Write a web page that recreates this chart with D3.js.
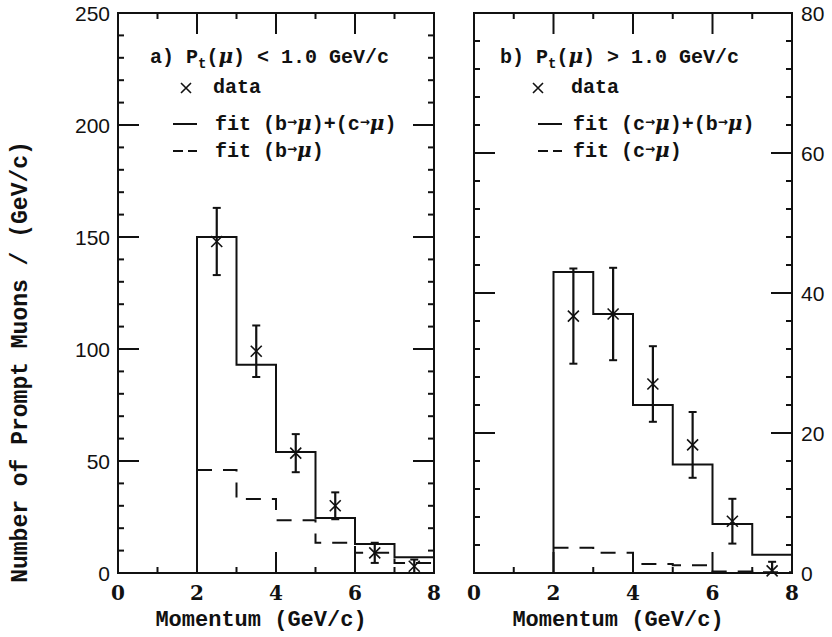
<!DOCTYPE html>
<html>
<head>
  <meta charset="utf-8">
  <title>Prompt muon momentum spectra</title>
  <script src="https://d3js.org/d3.v7.min.js"></script>
  <style>
    body { margin: 0; background: #fff; }
    text { fill: #111; }
  </style>
</head>
<body>

<div id="chart"></div>

<script>
// Histogram bins (GeV/c)
const binEdges = [2, 3, 4, 5, 6, 7, 8];
const binCenters = [2.5, 3.5, 4.5, 5.5, 6.5, 7.5];

// a) Pt(mu) < 1.0 GeV/c
const fitA = [150, 93, 54, 24.5, 13, 7];        // (b->mu)+(c->mu)
const partA = [46, 33, 23.5, 13.5, 9, 4.5];     // (b->mu)
const dataA = [148, 99, 53.5, 30, 9, 3];
const errA = [15, 11.5, 8.5, 6, 4.5, 3];

// b) Pt(mu) > 1.0 GeV/c
const fitB = [43, 37, 24, 15.5, 7, 2.6];        // (c->mu)+(b->mu)
const partB = [3.6, 2.9, 1.3, 1.1, 0.2, 0.1];   // (c->mu)
const dataB = [36.7, 37, 27, 18.3, 7.4, 0.3];
const errB = [6.8, 6.6, 5.4, 4.7, 3.2, 1.3];

const xTicks = [0, 2, 4, 6, 8];
const yTicksA = [0, 50, 100, 150, 200, 250];
const yTicksB = [0, 20, 40, 60, 80];

const width = 832;
const height = 637;
const monoFont = "'Liberation Mono', 'DejaVu Sans Mono', monospace";
const sansFont = "'Liberation Sans', Arial, sans-serif";

const svg = d3.select("#chart")
  .append("svg")
  .attr("width", width)
  .attr("height", height);

// draw one panel
function drawPanel(opt) {
  const x = d3.scaleLinear().domain([0, 8]).range([opt.left, opt.right]);
  const y = d3.scaleLinear().domain([0, opt.ymax]).range([573, 13]);
  const g = svg.append("g");

  // frame
  g.append("rect")
    .attr("x", x(0)).attr("y", y(opt.ymax))
    .attr("width", x(8) - x(0)).attr("height", y(0) - y(opt.ymax))
    .attr("fill", "none").attr("stroke", "#111").attr("stroke-width", 2);

  // inward ticks, all four sides
  const major = 21, minor = 6;
  d3.range(1, 8, 1).forEach(v => {
    const len = (v % 2 === 0) ? major : minor;
    g.append("line").attr("x1", x(v)).attr("x2", x(v))
      .attr("y1", y(0)).attr("y2", y(0) - len)
      .attr("stroke", "#111").attr("stroke-width", 2);
    g.append("line").attr("x1", x(v)).attr("x2", x(v))
      .attr("y1", y(opt.ymax)).attr("y2", y(opt.ymax) + len)
      .attr("stroke", "#111").attr("stroke-width", 2);
  });
  const yStep = opt.ymajor / 5;
  d3.range(yStep, opt.ymax - 0.01, yStep).forEach(v => {
    const isMajor = Math.abs(v / opt.ymajor - Math.round(v / opt.ymajor)) < 1e-6;
    const len = isMajor ? major : minor;
    g.append("line").attr("x1", x(0)).attr("x2", x(0) + len)
      .attr("y1", y(v)).attr("y2", y(v))
      .attr("stroke", "#111").attr("stroke-width", 2);
    g.append("line").attr("x1", x(8)).attr("x2", x(8) - len)
      .attr("y1", y(v)).attr("y2", y(v))
      .attr("stroke", "#111").attr("stroke-width", 2);
  });

  // x tick labels
  g.selectAll(".xl").data(xTicks).enter().append("text")
    .attr("x", d => x(d)).attr("y", 600)
    .attr("text-anchor", "middle")
    .attr("font-family", "'DejaVu Serif', serif").attr("font-weight", "bold")
    .attr("font-size", 20)
    .text(d => d);

  // y tick labels
  g.selectAll(".yl").data(opt.yTicks).enter().append("text")
    .attr("x", opt.labelSide === "left" ? x(0) - 8 : x(8) + 9)
    .attr("y", d => y(d)).attr("dy", "0.36em")
    .attr("text-anchor", opt.labelSide === "left" ? "end" : "start")
    .attr("font-family", sansFont).attr("font-size", 21)
    .text(d => d);

  // x axis title
  g.append("text")
    .attr("x", (x(0) + x(8)) / 2 - 15).attr("y", 626)
    .attr("text-anchor", "middle")
    .attr("font-family", monoFont).attr("font-weight", "bold")
    .attr("font-size", 22)
    .text("Momentum (GeV/c)");

  // step histograms
  const stepPoints = (vals, fromZero) => {
    const pts = fromZero ? [[binEdges[0], 0]] : [];
    vals.forEach((v, i) => {
      pts.push([binEdges[i], v]);
      pts.push([binEdges[i + 1], v]);
    });
    return pts;
  };
  const line = d3.line().x(d => x(d[0])).y(d => y(d[1]));

  g.append("path")
    .attr("d", line(stepPoints(opt.part, false)))
    .attr("fill", "none").attr("stroke", "#111").attr("stroke-width", 2)
    .attr("stroke-dasharray", "15,11");

  g.append("path")
    .attr("d", line(stepPoints(opt.fit, true)))
    .attr("fill", "none").attr("stroke", "#111").attr("stroke-width", 2);

  // data points with error bars
  const pts = g.selectAll(".pt").data(binCenters.map((c, i) => ({ c, v: opt.data[i], e: opt.err[i] })))
    .enter().append("g");
  pts.append("line")
    .attr("x1", d => x(d.c)).attr("x2", d => x(d.c))
    .attr("y1", d => y(d.v + d.e)).attr("y2", d => y(Math.max(0, d.v - d.e)))
    .attr("stroke", "#111").attr("stroke-width", 2.2);
  [1, -1].forEach(s => {
    pts.append("line")
      .attr("x1", d => x(d.c) - 4).attr("x2", d => x(d.c) + 4)
      .attr("y1", d => y(s > 0 ? d.v + d.e : Math.max(0, d.v - d.e)))
      .attr("y2", d => y(s > 0 ? d.v + d.e : Math.max(0, d.v - d.e)))
      .attr("stroke", "#111").attr("stroke-width", 2);
  });
  const m = 5.5;
  pts.append("path")
    .attr("d", d => `M${x(d.c) - m},${y(d.v) - m}L${x(d.c) + m},${y(d.v) + m}M${x(d.c) - m},${y(d.v) + m}L${x(d.c) + m},${y(d.v) - m}`)
    .attr("stroke", "#111").attr("stroke-width", 1.6).attr("fill", "none");

  // legend
  const L = opt.legend;
  const t = g.append("text")
    .attr("x", L.titleX).attr("y", 63)
    .attr("font-family", monoFont).attr("font-weight", "bold").attr("font-size", 20);
  t.append("tspan").text(L.tag + " P");
  t.append("tspan").attr("dy", 5).attr("font-size", 14).text("t");
  t.append("tspan").attr("dy", -5).text("(");
  t.append("tspan").attr("font-family", "'DejaVu Serif', serif").attr("font-style", "italic").text("μ");
  t.append("tspan").text(") " + L.cmp + " 1.0 GeV/c");

  // data marker in legend
  g.append("path")
    .attr("d", `M${L.symX - 5},83L${L.symX + 5},93M${L.symX - 5},93L${L.symX + 5},83`)
    .attr("stroke", "#111").attr("stroke-width", 1.6);
  g.append("text")
    .attr("x", L.dataX).attr("y", 93)
    .attr("font-family", monoFont).attr("font-weight", "bold").attr("font-size", 20)
    .text("data");

  g.append("line")
    .attr("x1", L.lineX).attr("x2", L.lineX + 24).attr("y1", 124).attr("y2", 124)
    .attr("stroke", "#111").attr("stroke-width", 2);
  g.append("line")
    .attr("x1", L.lineX).attr("x2", L.lineX + 24).attr("y1", 151).attr("y2", 151)
    .attr("stroke", "#111").attr("stroke-width", 2).attr("stroke-dasharray", "10,5");

  const fitText = (yy, parts) => {
    const tx = g.append("text")
      .attr("x", L.textX).attr("y", yy)
      .attr("font-family", monoFont).attr("font-weight", "bold").attr("font-size", 20);
    tx.append("tspan").text("fit ");
    parts.forEach((p, i) => {
      if (i > 0) tx.append("tspan").text("+");
      tx.append("tspan").text("(" + p);
      tx.append("tspan").attr("font-family", "'DejaVu Sans', sans-serif")
        .attr("font-size", 12).attr("dy", -4).text("→");
      tx.append("tspan").attr("dy", 4).attr("font-family", "'DejaVu Serif', serif")
        .attr("font-style", "italic").text("μ");
      tx.append("tspan").text(")");
    });
  };
  fitText(130, L.fitFull);
  fitText(157, L.fitPart);
}

drawPanel({
  left: 118, right: 434, ymax: 250, ymajor: 50, yTicks: yTicksA, labelSide: "left",
  fit: fitA, part: partA, data: dataA, err: errA,
  legend: { tag: "a)", cmp: "<", titleX: 150, symX: 186, dataX: 213, lineX: 173, textX: 215,
            fitFull: ["b", "c"], fitPart: ["b"] }
});

drawPanel({
  left: 474, right: 792, ymax: 80, ymajor: 20, yTicks: yTicksB, labelSide: "right",
  fit: fitB, part: partB, data: dataB, err: errB,
  legend: { tag: "b)", cmp: ">", titleX: 500, symX: 538, dataX: 571, lineX: 538, textX: 573,
            fitFull: ["c", "b"], fitPart: ["c"] }
});

// shared y axis title
svg.append("text")
  .attr("transform", "translate(27,362) rotate(-90)")
  .attr("text-anchor", "middle")
  .attr("font-family", monoFont).attr("font-weight", "bold").attr("font-size", 23)
  .text("Number of Prompt Muons / (GeV/c)");
</script>

</body>
</html>
